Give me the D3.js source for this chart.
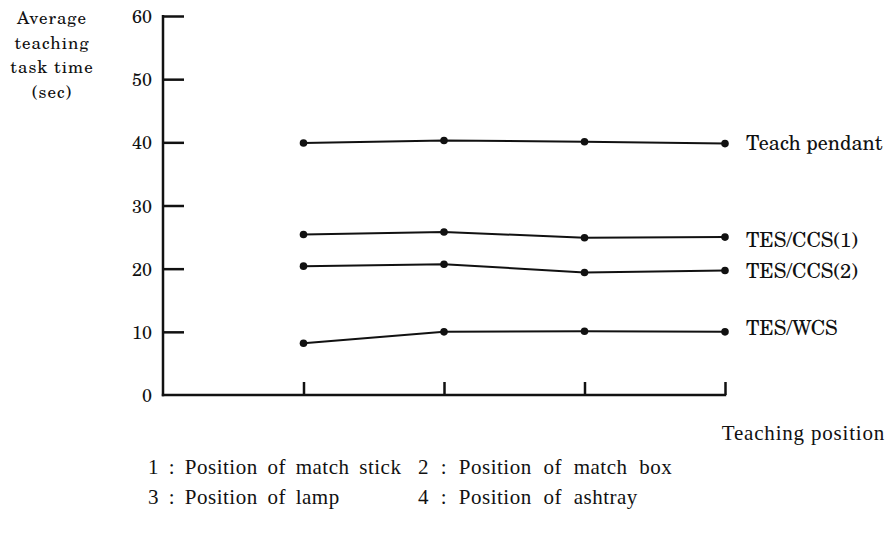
<!DOCTYPE html>
<html><head><meta charset="utf-8">
<script src="https://cdn.jsdelivr.net/npm/d3@7"></script>
<style>
html,body{margin:0;padding:0;background:#fff;}
</style></head>
<body><svg id="c" width="888" height="549"></svg>
<script>
// ---- data ----
const positions = [1, 2, 3, 4];
const seriesNames = ["Teach pendant", "TES/CCS(1)", "TES/CCS(2)", "TES/WCS"];
const teachPendant = [39.9, 40.3, 40.1, 39.8];
const tesCcs1 = [25.4, 25.8, 24.9, 25.0];
const tesCcs2 = [20.4, 20.7, 19.4, 19.7];
const tesWcs = [8.2, 10.0, 10.1, 10.0];
const yTicks = [0, 10, 20, 30, 40, 50, 60];
const yLabelLines = ["Average", "teaching", "task time", "(sec)"];
const xTitle = "Teaching position";
const noteLines = [["1 : Position of match stick", "2 : Position of match box"],
                   ["3 : Position of lamp", "4 : Position of ashtray"]];

const seriesValues = [teachPendant, tesCcs1, tesCcs2, tesWcs];
const labelDy = [6, 10, 7, 3];
const SCHOLA = '"TeX Gyre Schola"';
const ROMAN = '"Liberation Serif"';

const svg = d3.select("#c");
const x = d3.scaleLinear().domain([0, 4]).range([163, 725]);
const y = d3.scaleLinear().domain([0, 60]).range([395, 16]);

// y axis
const yAxis = d3.axisRight(y).tickValues(yTicks.filter(d => d > 0)).tickSize(21).tickFormat("");
const gy = svg.append("g").attr("transform", `translate(${x(0)},0)`).call(yAxis);
gy.select(".domain").remove();
gy.selectAll(".tick line").attr("stroke", "#111").attr("stroke-width", 2.5);
svg.append("line").attr("x1", x(0)).attr("x2", x(0)).attr("y1", y(60) - 1).attr("y2", y(0) + 1.2)
  .attr("stroke", "#111").attr("stroke-width", 2.5);
svg.selectAll(".ylab").data(yTicks).enter().append("text")
  .attr("x", 152).attr("y", d => y(d) + 7).attr("text-anchor", "end")
  .style("font-family", SCHOLA).style("fill", "#111")
  .style("font-size", "18px").text(d => d);

// x axis
const xAxis = d3.axisTop(x).tickValues(positions).tickSize(13).tickFormat("");
const gx = svg.append("g").attr("transform", `translate(0,${y(0)})`).call(xAxis);
gx.select(".domain").remove();
gx.selectAll(".tick line").attr("stroke", "#111").attr("stroke-width", 2.5);
svg.append("line").attr("x1", x(0) - 1.2).attr("x2", x(4) + 1.2).attr("y1", y(0)).attr("y2", y(0))
  .attr("stroke", "#111").attr("stroke-width", 2.5);

// series
const line = d3.line().x((d, i) => x(positions[i])).y(d => y(d));
seriesValues.forEach((vals, si) => {
  svg.append("path").attr("d", line(vals)).attr("fill", "none")
    .attr("stroke", "#111").attr("stroke-width", 2);
  svg.selectAll(null).data(vals).enter().append("circle")
    .attr("cx", (d, i) => x(positions[i])).attr("cy", d => y(d)).attr("r", 3.8).attr("fill", "#111");
  svg.append("text").attr("x", 746).attr("y", y(vals[vals.length - 1]) + labelDy[si])
    .style("font-family", SCHOLA).style("fill", "#111")
    .style("font-size", "20px").text(seriesNames[si]);
});

// y title
svg.selectAll(".yt").data(yLabelLines).enter().append("text")
  .attr("x", 52).attr("y", (d, i) => 24 + i * 24.5).attr("text-anchor", "middle")
  .style("font-family", SCHOLA).style("fill", "#111")
  .style("font-size", "17px").style("letter-spacing", "1px").text(d => d);

// x title and notes
svg.append("text").attr("x", 885).attr("y", 440).attr("text-anchor", "end")
  .style("font-family", ROMAN).style("fill", "#111")
  .style("font-size", "21px").style("letter-spacing", "0.8px").text(xTitle);
noteLines.forEach((row, ri) => {
  row.forEach((t, ci) => {
    svg.append("text").attr("x", ci === 0 ? 148 : 418).attr("y", 474 + ri * 30)
      .style("font-family", ROMAN).style("fill", "#111")
      .style("font-size", "21px").style("letter-spacing", "0.5px")
      .style("word-spacing", ci === 0 ? "4px" : "6px").text(t);
  });
});
</script></body></html>
